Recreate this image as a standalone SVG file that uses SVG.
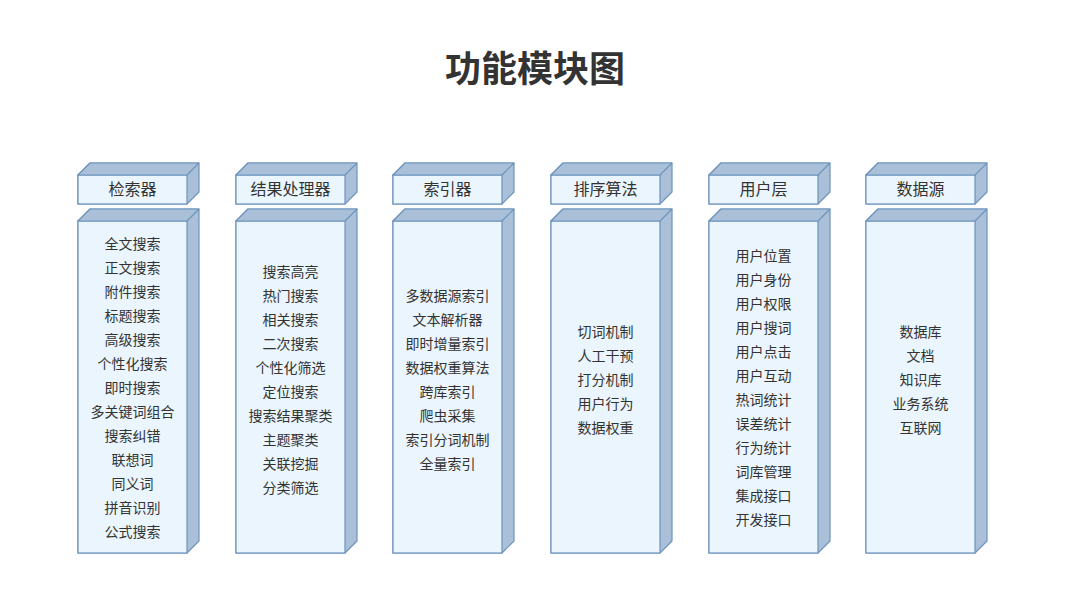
<svg xmlns="http://www.w3.org/2000/svg" width="1080" height="594" viewBox="0 0 1080 594">
<style>
.f{fill:#eaf5fd;stroke:#6d93bd;stroke-width:1.2}
.s{fill:#a9c0d8;stroke:#6d93bd;stroke-width:1.2;stroke-linejoin:round}
text{font-family:"Noto Sans CJK SC",sans-serif;fill:#333;text-anchor:middle}
.h{font-size:16px}
.i{font-size:14px}
.t{font-size:36px;font-weight:bold}
</style>
<defs>
<g id="hd"><path class="s" d="M0 12L12 0H121V29L109 41H0Z"/><rect class="f" x="0" y="12" width="109" height="29"/><path class="s" d="M0 12L12 0H121L109 12Z"/></g>
<g id="bd"><path class="s" d="M0 12L12 0H121V332L109 344H0Z"/><rect class="f" x="0" y="12" width="109" height="332"/><path class="s" d="M0 12L12 0H121L109 12Z"/></g>
</defs>
<rect width="1080" height="594" fill="#fff"/>
<text class="t" x="535" y="82">功能模块图</text>
<g id="c1" transform="translate(78,163)"><use href="#hd"/><use href="#bd" y="46"/><text class="h" x="54.5" y="32">检索器</text>
<g class="i"><text x="54.5" y="86">全文搜索</text><text x="54.5" y="110">正文搜索</text><text x="54.5" y="134">附件搜索</text><text x="54.5" y="158">标题搜索</text><text x="54.5" y="182">高级搜索</text><text x="54.5" y="206">个性化搜索</text><text x="54.5" y="230">即时搜索</text><text x="54.5" y="254">多关键词组合</text><text x="54.5" y="278">搜索纠错</text><text x="54.5" y="302">联想词</text><text x="54.5" y="326">同义词</text><text x="54.5" y="350">拼音识别</text><text x="54.5" y="374">公式搜索</text></g></g>
<g id="c2" transform="translate(236,163)"><use href="#hd"/><use href="#bd" y="46"/><text class="h" x="54.5" y="32">结果处理器</text>
<g class="i"><text x="54.5" y="114">搜索高亮</text><text x="54.5" y="138">热门搜索</text><text x="54.5" y="162">相关搜索</text><text x="54.5" y="186">二次搜索</text><text x="54.5" y="210">个性化筛选</text><text x="54.5" y="234">定位搜索</text><text x="54.5" y="258">搜索结果聚类</text><text x="54.5" y="282">主题聚类</text><text x="54.5" y="306">关联挖掘</text><text x="54.5" y="330">分类筛选</text></g></g>
<g id="c3" transform="translate(393,163)"><use href="#hd"/><use href="#bd" y="46"/><text class="h" x="54.5" y="32">索引器</text>
<g class="i"><text x="54.5" y="138">多数据源索引</text><text x="54.5" y="162">文本解析器</text><text x="54.5" y="186">即时增量索引</text><text x="54.5" y="210">数据权重算法</text><text x="54.5" y="234">跨库索引</text><text x="54.5" y="258">爬虫采集</text><text x="54.5" y="282">索引分词机制</text><text x="54.5" y="306">全量索引</text></g></g>
<g id="c4" transform="translate(551,163)"><use href="#hd"/><use href="#bd" y="46"/><text class="h" x="54.5" y="32">排序算法</text>
<g class="i"><text x="54.5" y="174">切词机制</text><text x="54.5" y="198">人工干预</text><text x="54.5" y="222">打分机制</text><text x="54.5" y="246">用户行为</text><text x="54.5" y="270">数据权重</text></g></g>
<g id="c5" transform="translate(709,163)"><use href="#hd"/><use href="#bd" y="46"/><text class="h" x="54.5" y="32">用户层</text>
<g class="i"><text x="54.5" y="98">用户位置</text><text x="54.5" y="122">用户身份</text><text x="54.5" y="146">用户权限</text><text x="54.5" y="170">用户搜词</text><text x="54.5" y="194">用户点击</text><text x="54.5" y="218">用户互动</text><text x="54.5" y="242">热词统计</text><text x="54.5" y="266">误差统计</text><text x="54.5" y="290">行为统计</text><text x="54.5" y="314">词库管理</text><text x="54.5" y="338">集成接口</text><text x="54.5" y="362">开发接口</text></g></g>
<g id="c6" transform="translate(866,163)"><use href="#hd"/><use href="#bd" y="46"/><text class="h" x="54.5" y="32">数据源</text>
<g class="i"><text x="54.5" y="174">数据库</text><text x="54.5" y="198">文档</text><text x="54.5" y="222">知识库</text><text x="54.5" y="246">业务系统</text><text x="54.5" y="270">互联网</text></g></g>
</svg>
